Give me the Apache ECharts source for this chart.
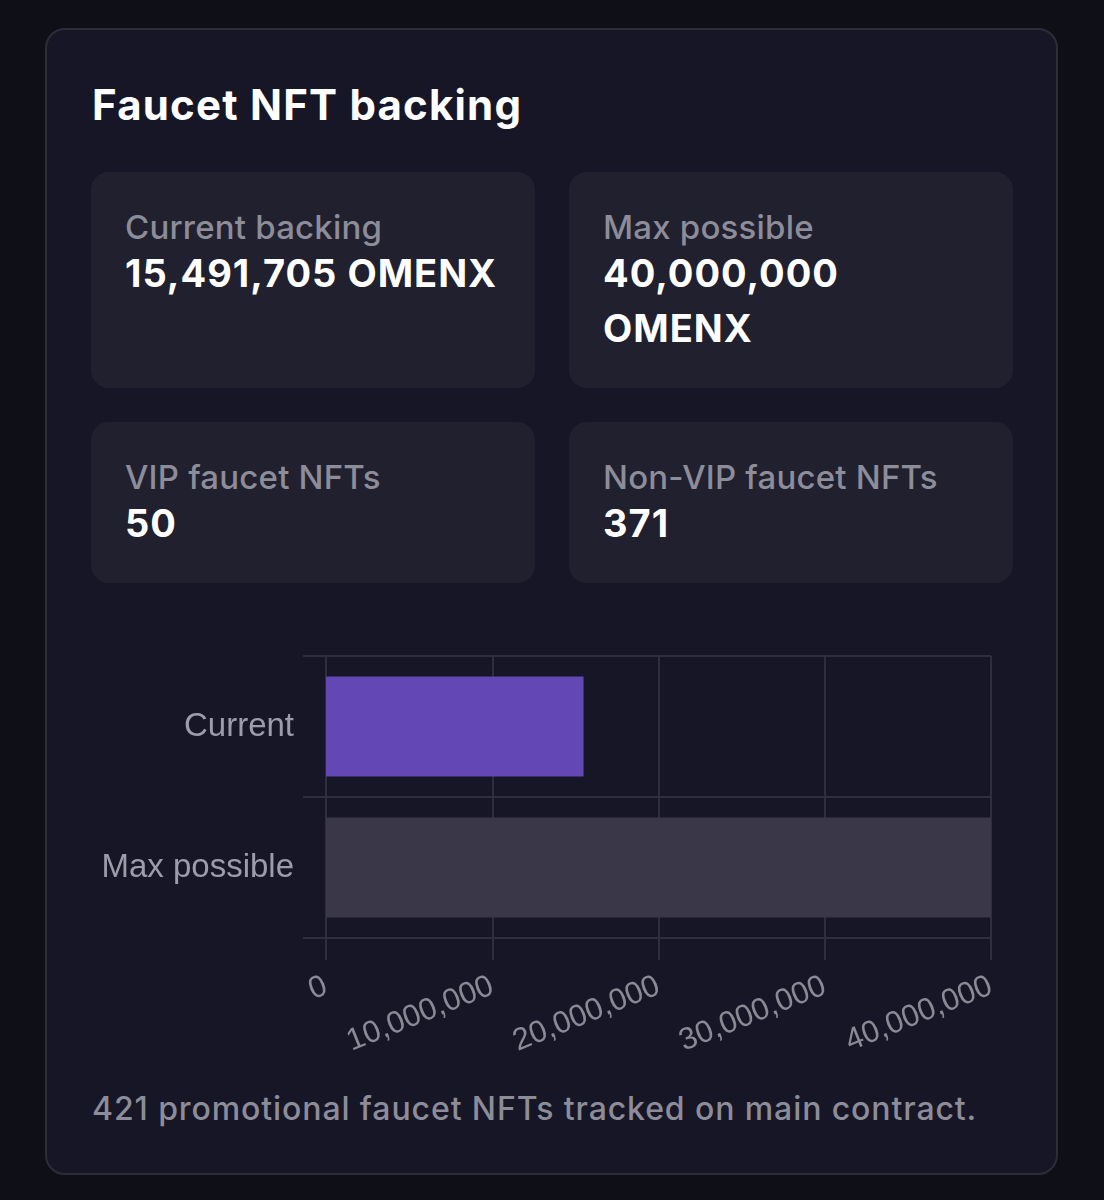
<!DOCTYPE html>
<html>
<head>
<meta charset="utf-8">
<script src="https://cdn.jsdelivr.net/npm/echarts@6/dist/echarts.min.js"></script>
<style>
  html, body { margin: 0; padding: 0; background: #0f0f17; width: 1104px; height: 1200px; overflow: hidden; }
  body { font-family: Inter, "Noto Sans", sans-serif; }
  .panel { position: absolute; left: 45px; top: 28px; width: 1013px; height: 1147px; box-sizing: border-box;
           border: 2px solid #2d2d3a; border-radius: 20px; background: #161626; }
  .title { position: absolute; left: 92px; top: 79px; font-size: 42px; font-weight: 700; color: #ffffff; letter-spacing: 1.2px; line-height: 52px; }
  .card { position: absolute; background: #20202f; border-radius: 18px; box-sizing: border-box; padding: 34px 34px; }
  .lab { font-size: 33px; color: #8d8c99; font-weight: 500; line-height: 42px; letter-spacing: 0.2px; }
  .val { font-size: 38px; color: #ffffff; font-weight: 700; line-height: 55px; margin-top: -2px; letter-spacing: 1px; }
  .foot { position: absolute; left: 92px; top: 1089px; font-size: 32px; color: #8d8c99; font-weight: 500; letter-spacing: 0.9px; line-height: 40px; }
  #chart { position: absolute; left: 60px; top: 630px; width: 980px; height: 440px; }
</style>
</head>
<body>
<div class="panel"></div>
<div class="title">Faucet NFT backing</div>
<div class="card" style="left:91px;top:172px;width:444px;height:216px;">
  <div class="lab">Current backing</div><div class="val">15,491,705 OMENX</div>
</div>
<div class="card" style="left:569px;top:172px;width:444px;height:216px;">
  <div class="lab">Max possible</div><div class="val" style="width:300px">40,000,000 OMENX</div>
</div>
<div class="card" style="left:91px;top:422px;width:444px;height:161px;">
  <div class="lab">VIP faucet NFTs</div><div class="val">50</div>
</div>
<div class="card" style="left:569px;top:422px;width:444px;height:161px;">
  <div class="lab">Non-VIP faucet NFTs</div><div class="val">371</div>
</div>
<div id="chart"></div>
<div class="foot">421 promotional faucet NFTs tracked on main contract.</div>
<script>
const categories = ["Current", "Max possible"];
const values = [15491705, 40000000];
const barColors = ["#6347b5", "#3a3848"];
const axisMax = 40000000;
const axisStep = 10000000;

const chart = echarts.init(document.getElementById('chart'), null, { renderer: 'canvas' });
const gridColor = '#2e2e3c';
chart.setOption({
  animation: false,
  grid: { left: 266, right: 49, top: 26, bottom: 132 },
  xAxis: {
    type: 'value', min: 0, max: axisMax, interval: axisStep,
    axisLine: { show: false },
    axisTick: { show: true, length: 22, lineStyle: { color: gridColor, width: 2 } },
    splitLine: { show: true, lineStyle: { color: gridColor, width: 2 } },
    axisLabel: {
      rotate: 22, margin: 47, color: '#8a8a96', fontSize: 31, fontFamily: 'Liberation Sans, Arial, sans-serif',
      formatter: v => v.toLocaleString('en-US')
    }
  },
  yAxis: {
    type: 'category', data: categories, inverse: true,
    axisLine: { show: false },
    axisTick: { show: true, length: 23, lineStyle: { color: gridColor, width: 2 } },
    splitLine: { show: true, lineStyle: { color: gridColor, width: 2 } },
    axisLabel: { margin: 32, color: '#9d9caa', fontSize: 33, fontFamily: 'Liberation Sans, Arial, sans-serif' }
  },
  series: [{
    type: 'bar',
    data: values.map((v, i) => ({ value: v, itemStyle: { color: barColors[i] } })),
    barWidth: '71%'
  }]
});
</script>
</body>
</html>
